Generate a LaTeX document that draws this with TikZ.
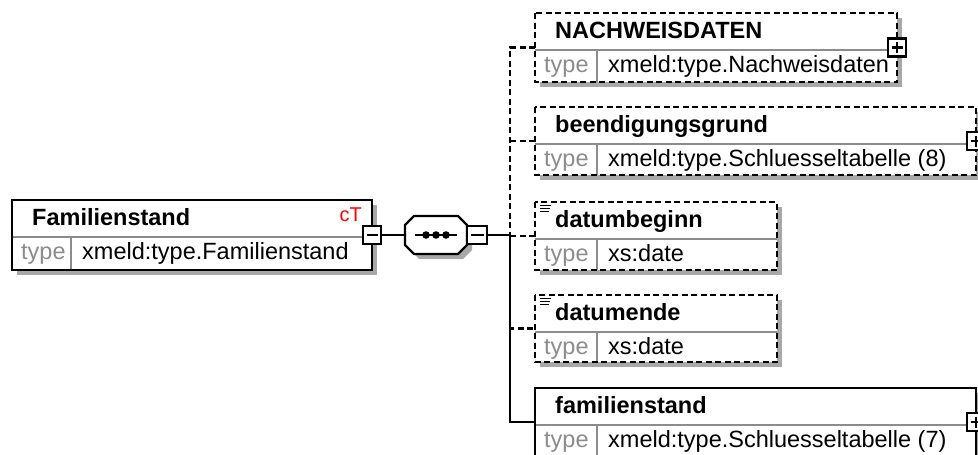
\documentclass[tikz,border=0pt]{standalone}
\usepackage{fontspec}
\setmainfont{Liberation Sans}
\usetikzlibrary{shadows,calc}

\definecolor{rulegray}{HTML}{8C8C8C}
\definecolor{shadowgray}{HTML}{A8A8A8}
\definecolor{ctred}{HTML}{FF0000}

\tikzset{
  elemfill/.style={fill=white, inner sep=0, outer sep=0,
    drop shadow={shadow xshift=5pt, shadow yshift=-5pt, fill=shadowgray, opacity=1}},
  mandatory/.style={draw=black, line width=2.4pt},
  optional/.style={draw=black, line width=2.4pt, dash pattern=on 6pt off 3.5pt},
  rowline/.style={draw=rulegray, line width=2.2pt},
  titletext/.style={font=\bfseries\fontsize{23.5}{28}\selectfont, inner sep=0, anchor=base west},
  typelabel/.style={font=\fontsize{23.5}{28}\selectfont, text=rulegray, inner sep=0, anchor=base west},
  typevalue/.style={font=\fontsize{23.5}{28}\selectfont, inner sep=0, anchor=base west},
  expander/.style={draw=black, fill=white, line width=2.4pt, minimum width=18pt,
    minimum height=18pt, inner sep=0, outer sep=0},
  glyph/.style={draw=black, line width=2.4pt},
  conn/.style={draw=black, line width=2.4pt},
  optconn/.style={conn, dash pattern=on 6pt off 3.5pt},
}

% element box: #1 name, #2 border style, #3 left, #4 top, #5 width, #6 height,
% #7 element name, #8 type name, #9 width of the "type" column
\newcommand\schemabox[9]{%
  \node[elemfill, minimum width=#5pt, minimum height=#6pt, anchor=north west] (#1) at (#3,#4) {};
  \coordinate (#1-rl) at ([yshift=-37pt]#1.north west);
  \coordinate (#1-rr) at ([yshift=-37pt]#1.north east);
  \draw[rowline] (#1-rl) -- (#1-rr);
  \draw[rowline] ([xshift=#9pt]#1-rl) -- ([xshift=#9pt]#1.south west);
  \draw[#2] (#1.north west) rectangle (#1.south east);
  \node[titletext] (#1-title) at ([xshift=20pt,yshift=-25pt]#1.north west) {#7};
  \node[typelabel] (#1-type) at ([xshift=9pt,yshift=-22pt]#1-rl) {type};
  \node[typevalue] (#1-value) at ([xshift=#9pt+11pt,yshift=-22pt]#1-rl) {#8};
}

% collapse / expand buttons
\newcommand\minusbox[1]{%
  \draw[glyph] ([xshift=3.5pt]#1.west) -- ([xshift=-3.5pt]#1.east);}
\newcommand\plusbox[1]{%
  \draw[glyph] ([xshift=3.5pt]#1.west) -- ([xshift=-3.5pt]#1.east);
  \draw[glyph] ([yshift=-3.5pt]#1.north) -- ([yshift=3.5pt]#1.south);}

% simple-content marker in the top left corner
\newcommand\contentmark[1]{%
  \foreach \dy/\len in {3.5/11,6.5/10,9.5/9}
    \draw[line width=1.8pt] ([xshift=5pt,yshift=-\dy pt]#1.north west) -- ++(\len,0);}

\begin{document}
\begin{tikzpicture}[x=1pt,y=-1pt]
\useasboundingbox (0,0) rectangle (978,455);

% root element
\schemabox{main}{mandatory}{12}{200}{360}{70}{Familienstand}{xmeld:type.Familienstand}{59}
\node[font=\fontsize{20}{24}\selectfont, text=ctred, inner sep=0, anchor=base east]
  (main-ct) at ([xshift=-10pt,yshift=-21pt]main.north east) {cT};
\node[expander] (main-x) at (main.east) {};
\minusbox{main-x}

% sequence compositor
\node[minimum width=62pt, minimum height=38pt, inner sep=0, outer sep=0] (seq) at (436,235) {};
\fill[shadowgray, transform canvas={shift={(5pt,-5pt)}}]
  ([xshift=9pt]seq.north west) -- ([xshift=-9pt]seq.north east) -- ([yshift=-9pt]seq.north east)
  -- ([yshift=9pt]seq.south east) -- ([xshift=-9pt]seq.south east) -- ([xshift=9pt]seq.south west)
  -- ([yshift=9pt]seq.south west) -- ([yshift=-9pt]seq.north west) -- cycle;
\draw[fill=white, line width=2.4pt]
  ([xshift=9pt]seq.north west) -- ([xshift=-9pt]seq.north east) -- ([yshift=-9pt]seq.north east)
  -- ([yshift=9pt]seq.south east) -- ([xshift=-9pt]seq.south east) -- ([xshift=9pt]seq.south west)
  -- ([yshift=9pt]seq.south west) -- ([yshift=-9pt]seq.north west) -- cycle;
\draw[line width=2.4pt] ([xshift=-21pt]seq.center) -- ([xshift=21pt]seq.center);
\foreach \dx in {-10,0,10}
  \fill ([xshift=\dx pt]seq.center) circle (3.8pt);
\node[expander, minimum width=20pt, minimum height=18pt, anchor=west] (seq-x) at (seq.east) {};
\minusbox{seq-x}

% child elements
\schemabox{nach}{optional}{535}{13}{362}{69}{NACHWEISDATEN}{xmeld:type.Nachweisdaten}{62}
\node[expander] (nach-x) at (nach.east) {};
\plusbox{nach-x}

\schemabox{been}{optional}{535}{107}{441}{68}{beendigungsgrund}{xmeld:type.Schluesseltabelle (8)}{62}
\node[expander] (been-x) at (been.east) {};
\plusbox{been-x}

\schemabox{dbeg}{optional}{535}{202}{242}{68}{datumbeginn}{xs:date}{62}
\contentmark{dbeg}

\schemabox{dend}{optional}{535}{295}{242}{67}{datumende}{xs:date}{62}
\contentmark{dend}

\schemabox{fam}{mandatory}{535}{388}{441}{68}{familienstand}{xmeld:type.Schluesseltabelle (7)}{62}
\node[expander] (fam-x) at (fam.east) {};
\plusbox{fam-x}

% connectors
\coordinate (bus) at (510,235);
\draw[conn] (main-x.east) -- (seq.west);
\draw[optconn] (nach.west) -| (bus) |- (dend.west);
\draw[optconn] (been.west) -- (been.west -| bus);
\draw[optconn] (dbeg.west) -- (dbeg.west -| bus);
\draw[conn] (bus) |- (fam.west);
\draw[conn] (seq-x.east) -- (bus);
\end{tikzpicture}
\end{document}
